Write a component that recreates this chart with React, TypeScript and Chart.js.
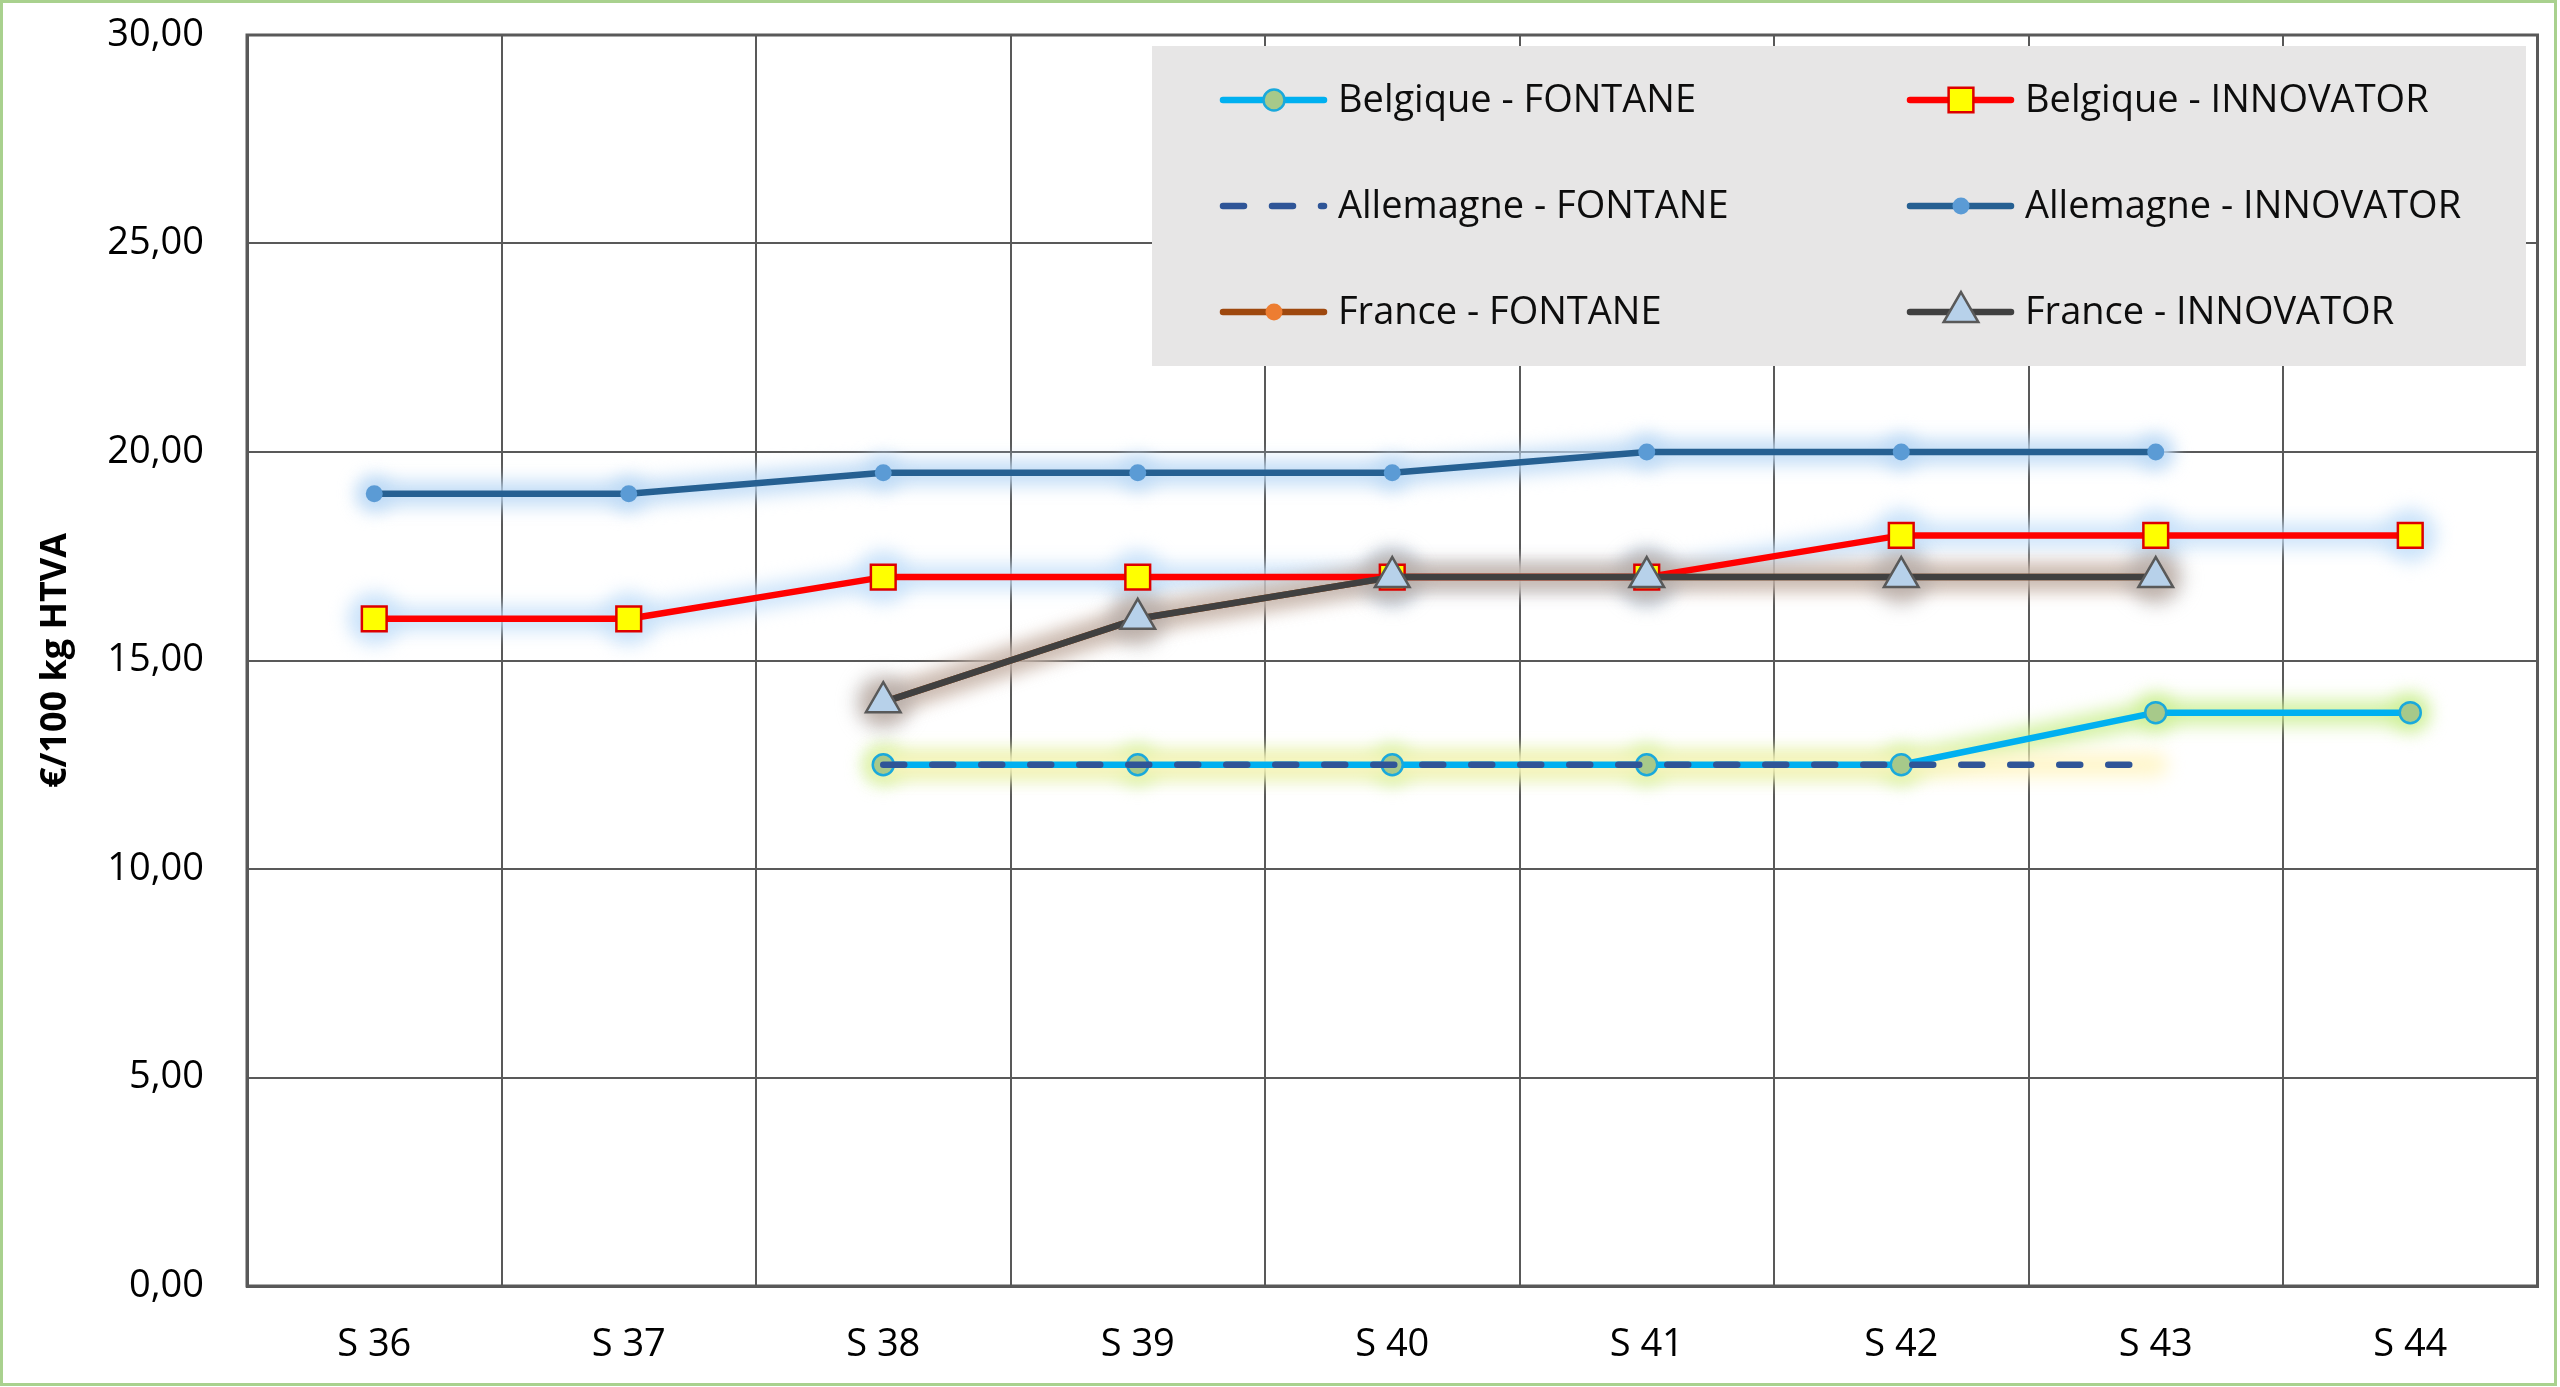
import React, { useEffect, useRef } from 'react';
import { Chart, registerables } from 'chart.js';

Chart.register(...registerables);

// ---- Data ----
const weeks = ['S 36', 'S 37', 'S 38', 'S 39', 'S 40', 'S 41', 'S 42', 'S 43', 'S 44'];
const belgiqueFontane = [null, null, 12.5, 12.5, 12.5, 12.5, 12.5, 13.75, 13.75];
const belgiqueInnovator = [16, 16, 17, 17, 17, 17, 18, 18, 18];
const allemagneFontane = [null, null, 12.5, 12.5, 12.5, 12.5, 12.5, 12.5, null];
const allemagneInnovator = [19, 19, 19.5, 19.5, 19.5, 20, 20, 20, null];
const franceFontane = [null, null, 14, 16, 17, 17, 17, 17, null];
const franceInnovator = [null, null, 14, 16, 17, 17, 17, 17, null];
const seriesNames = [
  'Belgique - FONTANE',
  'Belgique - INNOVATOR',
  'Allemagne - FONTANE',
  'Allemagne - INNOVATOR',
  'France - FONTANE',
  'France - INNOVATOR',
];
const yAxisTitle = '€/100 kg HTVA';
const yMin = 0;
const yMax = 30;
const yStep = 5;

const FONT = "'Open Sans', 'DejaVu Sans', sans-serif";

type Marker = {
  style: string;
  r: number;
  fill: string;
  stroke: string;
  bw: number;
};

function drawMarker(ctx: CanvasRenderingContext2D, m: Marker, x: number, y: number) {
  if (m.r <= 0) return;
  ctx.save();
  ctx.beginPath();
  if (m.style === 'circle') {
    ctx.arc(x, y, m.r, 0, Math.PI * 2);
  } else if (m.style === 'rect') {
    const s = Math.SQRT1_2 * m.r;
    ctx.rect(x - s, y - s, 2 * s, 2 * s);
  } else if (m.style === 'triangle') {
    let rad = 0;
    ctx.moveTo(x + Math.sin(rad) * m.r, y - Math.cos(rad) * m.r);
    rad += (2 * Math.PI) / 3;
    ctx.lineTo(x + Math.sin(rad) * m.r, y - Math.cos(rad) * m.r);
    rad += (2 * Math.PI) / 3;
    ctx.lineTo(x + Math.sin(rad) * m.r, y - Math.cos(rad) * m.r);
    ctx.closePath();
  }
  ctx.fillStyle = m.fill;
  ctx.fill();
  if (m.bw > 0) {
    ctx.lineWidth = m.bw;
    ctx.strokeStyle = m.stroke;
    ctx.stroke();
  }
  ctx.restore();
}

export default function App() {
  const ref = useRef<HTMLCanvasElement | null>(null);

  useEffect(() => {
    const canvas = ref.current;
    if (!canvas) return;

    const styles = [
      { color: '#00b0f0', glow: 'rgba(205, 240, 150, 0.9)', dash: [] as number[], marker: { style: 'circle', r: 10.5, fill: '#a7c98a', stroke: '#1aa9dc', bw: 2.5 } },
      { color: '#ff0000', glow: 'rgba(200, 225, 250, 0.9)', dash: [] as number[], marker: { style: 'rect', r: 17.5, fill: '#ffff00', stroke: '#dd0000', bw: 2.5 } },
      { color: '#2f5597', glow: 'rgba(255, 245, 195, 0.9)', dash: [21, 28], marker: { style: 'circle', r: 0, fill: '#2f5597', stroke: '#2f5597', bw: 0 } },
      { color: '#266092', glow: 'rgba(190, 218, 245, 0.95)', dash: [] as number[], marker: { style: 'circle', r: 8.5, fill: '#5b9bd5', stroke: '#5b9bd5', bw: 0 } },
      { color: '#9e480e', glow: 'rgba(225, 195, 175, 0.9)', dash: [] as number[], marker: { style: 'circle', r: 8.5, fill: '#ed7d31', stroke: '#ed7d31', bw: 0 } },
      { color: '#404040', glow: 'rgba(170, 165, 165, 0.5)', dash: [] as number[], marker: { style: 'triangle', r: 20, fill: '#b7d1ea', stroke: '#595959', bw: 2.5 } },
    ];
    const values = [belgiqueFontane, belgiqueInnovator, allemagneFontane, allemagneInnovator, franceFontane, franceInnovator];

    const datasets = values.map((data, i) => {
      const s = styles[i];
      return {
        label: seriesNames[i],
        data,
        borderColor: s.color,
        backgroundColor: s.color,
        borderWidth: 6.5,
        borderDash: s.dash,
        borderCapStyle: s.dash.length ? 'round' : 'butt',
        borderJoinStyle: 'round',
        tension: 0,
        spanGaps: false,
        fill: false,
        pointStyle: s.marker.style,
        pointRadius: s.marker.r,
        pointBackgroundColor: s.marker.fill,
        pointBorderColor: s.marker.stroke,
        pointBorderWidth: s.marker.bw,
        order: 6 - i,
        glow: s.glow,
      } as any;
    });

    const drawGlow = (chart: any, index: number) => {
      const ds = chart.data.datasets[index];
      const meta = chart.getDatasetMeta(index);
      const pts = meta.data;
      const ctx = chart.ctx;
      ctx.save();
      ctx.filter = 'blur(9px)';
      ctx.strokeStyle = ds.glow;
      ctx.fillStyle = ds.glow;
      ctx.lineWidth = 24;
      ctx.lineCap = 'round';
      ctx.lineJoin = 'round';
      ctx.beginPath();
      let started = false;
      for (let i = 0; i < pts.length; i++) {
        const p = pts[i];
        if (!p || p.skip) { started = false; continue; }
        if (!started) { ctx.moveTo(p.x, p.y); started = true; }
        else ctx.lineTo(p.x, p.y);
      }
      ctx.stroke();
      const r = Math.max(ds.pointRadius || 0, 6) + 9;
      for (let i = 0; i < pts.length; i++) {
        const p = pts[i];
        if (!p || p.skip || !ds.pointRadius) continue;
        ctx.beginPath();
        ctx.arc(p.x, p.y, r, 0, Math.PI * 2);
        ctx.fill();
      }
      ctx.restore();
    };

    const backgroundPlugin = {
      id: 'bg',
      beforeDraw(chart: any) {
        const ctx = chart.ctx;
        ctx.save();
        ctx.fillStyle = '#ffffff';
        ctx.fillRect(0, 0, chart.width, chart.height);
        ctx.restore();
      },
      beforeDatasetsDraw(chart: any) {
        const ctx = chart.ctx;
        const a = chart.chartArea;
        ctx.save();
        ctx.strokeStyle = '#595959';
        ctx.lineWidth = 3;
        ctx.strokeRect(a.left, a.top, a.right - a.left, a.bottom - a.top);
        ctx.restore();
        // soft glows under all series, from the library's point elements
        for (let i = 0; i < chart.data.datasets.length; i++) drawGlow(chart, i);
      },
      afterDraw(chart: any) {
        const ctx = chart.ctx;
        // legend box
        ctx.save();
        const bx = 1152, by = 46, bw = 2526 - 1152, bh = 366 - 46;
        ctx.fillStyle = '#e7e6e6';
        ctx.fillRect(bx, by, bw, bh);
        const colX = [1220, 1907];
        const rowY = [100, 206, 312];
        for (let i = 0; i < seriesNames.length; i++) {
          const s = styles[i];
          const x0 = colX[i % 2];
          const y0 = rowY[Math.floor(i / 2)];
          ctx.save();
          ctx.strokeStyle = s.color;
          ctx.lineWidth = 6.5;
          ctx.lineCap = 'round';
          ctx.setLineDash(s.dash);
          ctx.beginPath();
          ctx.moveTo(x0 + 3, y0);
          ctx.lineTo(x0 + 104, y0);
          ctx.stroke();
          ctx.restore();
          drawMarker(ctx, s.marker as Marker, x0 + 54, y0);
          ctx.fillStyle = '#0d0d0d';
          ctx.font = `38px ${FONT}`;
          ctx.textAlign = 'left';
          ctx.textBaseline = 'middle';
          ctx.fillText(seriesNames[i], x0 + 118, y0 + 1);
        }
        ctx.restore();
        // outer green border
        ctx.save();
        ctx.strokeStyle = '#a9d18e';
        ctx.lineWidth = 3;
        ctx.strokeRect(1.5, 1.5, 2554, 1383);
        ctx.restore();
      },
    };

    const chart = new Chart(canvas, {
      type: 'line',
      data: { labels: weeks, datasets },
      options: {
        responsive: false,
        animation: false,
        devicePixelRatio: 1,
        events: [],
        layout: { padding: { top: 35, right: 20, bottom: 0, left: 0 } },
        plugins: {
          legend: { display: false },
          tooltip: { enabled: false },
        },
        scales: {
          x: {
            type: 'category',
            offset: true,
            grid: { offset: true, color: '#595959', lineWidth: 2, drawTicks: false },
            border: { display: true, color: '#595959', width: 3 },
            ticks: { color: '#000000', padding: 36, font: { family: FONT, size: 38 }, maxRotation: 0, autoSkip: false },
            afterFit: (s: any) => { s.height = 101; s.paddingLeft = 0; s.paddingRight = 0; },
          },
          y: {
            min: yMin,
            max: yMax,
            grid: { color: '#595959', lineWidth: 2, drawTicks: false },
            border: { display: true, color: '#595959', width: 3 },
            ticks: {
              stepSize: yStep,
              color: '#000000',
              padding: 43,
              font: { family: FONT, size: 38 },
              callback: (v: any) => Number(v).toFixed(2).replace('.', ','),
            },
            title: {
              display: true,
              text: yAxisTitle,
              color: '#000000',
              font: { family: FONT, size: 36, weight: 'bold' },
              padding: { top: 34, bottom: 0 },
            },
            afterFit: (s: any) => { s.width = 247; s.paddingTop = 0; s.paddingBottom = 0; },
          },
        },
      } as any,
      plugins: [backgroundPlugin],
    });

    return () => chart.destroy();
  }, []);

  return (
    <div style={{ position: 'fixed', left: 0, top: 0, width: 2560, height: 1387, background: '#fff' }}>
      <canvas ref={ref} width={2560} height={1387} style={{ width: 2560, height: 1387, display: 'block' }} />
    </div>
  );
}
